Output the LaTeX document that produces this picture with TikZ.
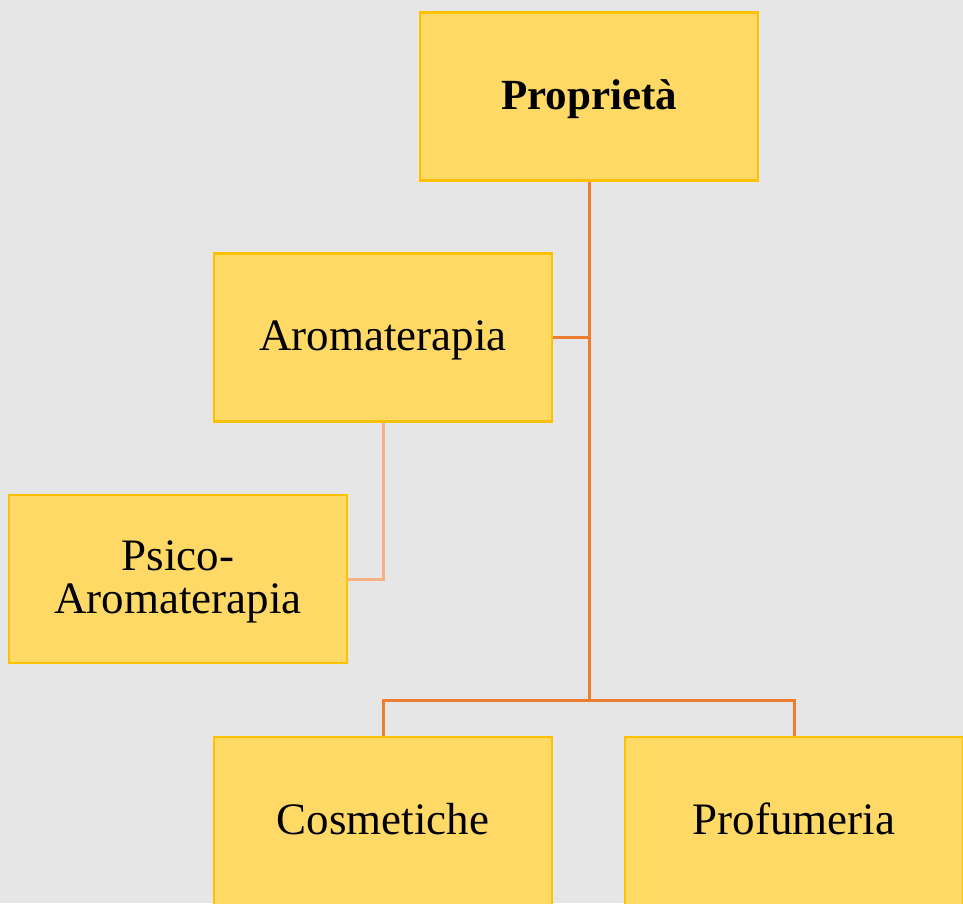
\documentclass[tikz,border=0pt]{standalone}
\usepackage{fontspec}
\setmainfont{Liberation Serif}
\definecolor{bgc}{HTML}{E6E6E6}
\definecolor{boxfill}{HTML}{FFD966}
\definecolor{boxline}{HTML}{FFC000}
\definecolor{linkc}{HTML}{ED7D31}
\definecolor{linklight}{HTML}{F4B183}
\tikzset{
  box/.style={rectangle, draw=boxline, fill=boxfill, line width=2.5pt,
    minimum width=338pt, minimum height=168pt, inner sep=0pt, align=center,
    font=\fontsize{45}{45}\selectfont},
  oneline/.style={text height=32pt, text depth=6pt},
  twoline/.style={text height=75pt, text depth=6pt},
  link/.style={draw=linkc, line width=3pt},
  linkl/.style={draw=linklight, line width=3pt}
}
\begin{document}
\begin{tikzpicture}[x=1pt,y=1pt]
\fill[bgc] (0,0) rectangle (963,-903);
\useasboundingbox (0,0) rectangle (963,-903);
\clip (0,0) rectangle (963,-903);
\node[box, oneline, font=\fontsize{43}{43}\selectfont\bfseries] (prop) at (589,-96.5) {Propriet\`a};
\node[box, oneline] (aroma) at (383,-337.5) {Aromaterapia};
\node[box, twoline] (psico) at (178,-579) {Psico-\\[-2pt]Aromaterapia};
\node[box, oneline] (cosm) at (383,-821) {Cosmetiche};
\node[box, oneline] (prof) at (794,-821) {Profumeria};
\coordinate (j) at (589,-700);
\draw[link] (prop.south) -- (j);
\draw[link] (aroma.east) -- (aroma.east -| prop.south);
\draw[link] (cosm.north) |- (j) -| (prof.north);
\draw[linkl] (aroma.south) |- (psico.east);
\end{tikzpicture}
\end{document}
